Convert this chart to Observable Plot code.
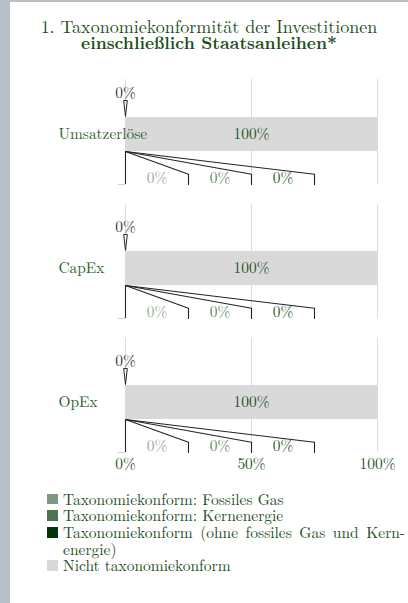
<!DOCTYPE html>
<html><head><meta charset="utf-8">
<script src="https://cdn.jsdelivr.net/npm/d3@7"></script>
<script src="https://cdn.jsdelivr.net/npm/@observablehq/plot@0.6"></script>
<style>
html,body{margin:0;padding:0;}
body{width:408px;height:603px;background:#b5c0c9;overflow:hidden;position:relative;font-family:"Latin Modern Roman","Liberation Serif",serif;}
#panel{position:absolute;left:10px;top:2px;right:0;bottom:0;background:#fff;}
#title{position:absolute;left:0;width:398px;top:16px;text-align:center;color:#1d4f1d;font-size:18px;line-height:16px;white-space:nowrap;}
#title b{font-weight:bold;font-size:17.3px;}
#chart{position:absolute;left:0;top:58px;}
#legend{position:absolute;left:37px;top:488.6px;width:370px;color:#1d4f1d;font-size:15.5px;line-height:16.7px;}
.item{position:relative;padding-left:16px;}
.sw{position:absolute;left:0;top:3px;width:10.5px;height:10.5px;}
.just{display:block;text-align:justify;text-align-last:justify;}
</style></head>
<body>
<div id="panel">
  <div id="title">1. Taxonomiekonformität der Investitionen<br><b>einschließlich Staatsanleihen*</b></div>
  <div id="chart"></div>
  <div id="legend"></div>
</div>
<script>
// ---- data ----
const categories = ["Umsatzerlöse", "CapEx", "OpEx"];
const series = [
  "Taxonomiekonform: Fossiles Gas",
  "Taxonomiekonform: Kernenergie",
  "Taxonomiekonform (ohne fossiles Gas und Kernenergie)",
  "Nicht taxonomiekonform"
];
const fossilGas = [0, 0, 0];
const nuclear = [0, 0, 0];
const aligned = [0, 0, 0];
const notAligned = [100, 100, 100];
const xTicks = [0, 50, 100];

// ---- styles / layout ----
const seriesColors = ["#7d9a80", "#4b7350", "#053505", "#d9d9d9"];
const calloutLabelColors = ["#93ad95", "#5f8763", "#2e5e2e"];
const textGreen = "#1f521f";
const FONT = "Latin Modern Roman";
const FS = 15.4;
const L = {labelTop: 0.2, wedge: 0.333, barTop: 0.412, barBottom: 0.711, barMid: 0.561,
           fanEnd: 0.91, valueLabel: 0.945, bottom: 1, slot: 25,
           gridTop: [0.079, 0, 0]};

const seriesValues = [fossilGas, nuclear, aligned, notAligned];
const fmt = v => `${v}%`;

const stackRows = categories.flatMap((cat, i) => {
  let acc = 0;
  return series.map((s, j) => {
    const v = seriesValues[j][i];
    const r = {category: cat, series: s, idx: j, value: v, x1: acc, x2: acc + v};
    acc += v;
    return r;
  });
});
const conformRows = categories.map((cat, i) => {
  const rows = stackRows.filter(d => d.category === cat && d.idx < 3);
  return {category: cat, start: rows[0].x1, end: rows[2].x2, total: d3.sum(rows, d => d.value)};
});
const calloutRows = stackRows.filter(d => d.idx < 3).map(d => ({
  ...d, origin: (d.x1 + d.x2) / 2, slotEnd: (d.idx + 1) * L.slot, slotMid: (d.idx + 0.5) * L.slot
}));
const fanPoints = calloutRows.flatMap(d => [
  {key: d.category + d.idx, category: d.category, x: d.origin, y: L.barBottom},
  {key: d.category + d.idx, category: d.category, x: d.slotEnd, y: L.fanEnd},
  {key: d.category + d.idx, category: d.category, x: d.slotEnd, y: L.bottom}
]);
const gridRows = categories.flatMap((cat, i) => xTicks.map(t => ({category: cat, x: t, y1: L.gridTop[i]})));

const wedge = {
  draw(context) {
    context.moveTo(-1.8, -8);
    context.lineTo(1.8, -8);
    context.lineTo(0, 8);
    context.closePath();
  }
};

const chart = Plot.plot({
  width: 398, height: 416,
  marginLeft: 115, marginRight: 31, marginTop: 10, marginBottom: 24,
  style: {fontFamily: FONT, fontSize: FS + "px", background: "white"},
  x: {domain: [0, 100]},
  y: {domain: [0, 1], reverse: true, axis: null},
  fy: {domain: categories, axis: null, paddingInner: 20 / 134, paddingOuter: 0},
  color: {domain: series, range: seriesColors},
  marks: [
    Plot.ruleX(gridRows, {fy: "category", x: "x", y1: "y1", y2: L.bottom, stroke: "#dcdcdc", strokeWidth: 1}),
    Plot.axisX(xTicks, {tickSize: 0, tickPadding: 6, tickFormat: fmt, label: null, fill: textGreen, fontSize: FS}),
    Plot.rect(stackRows, {fy: "category", x1: "x1", x2: "x2", y1: L.barTop, y2: L.barBottom, fill: "series"}),
    Plot.text(stackRows.filter(d => d.idx === 3), {fy: "category", x: d => (d.x1 + d.x2) / 2, y: L.barMid, text: d => fmt(d.value), fill: textGreen, fontSize: FS}),
    Plot.text(categories, {fy: d => d, x: 0, y: L.barMid, text: d => d, textAnchor: "start", dx: -67, fill: "#2c5f2c", fontSize: FS}),
    Plot.text(conformRows, {fy: "category", x: d => (d.start + d.end) / 2, y: L.labelTop, text: d => fmt(d.total), fill: "#333", fontSize: FS}),
    Plot.dot(conformRows, {fy: "category", x: d => (d.start + d.end) / 2, y: L.wedge, symbol: wedge, r: 4, fill: "white", stroke: "#222", strokeWidth: 1}),
    Plot.ruleY(conformRows, {fy: "category", y: L.bottom, x1: "start", x2: "start", insetLeft: -7, stroke: "#d0d0d0"}),
    Plot.ruleX(conformRows, {fy: "category", x: "start", y1: L.barBottom, y2: L.bottom, stroke: "#222", strokeWidth: 1.1}),
    Plot.line(fanPoints, {fy: "category", x: "x", y: "y", z: "key", stroke: "#222", strokeWidth: 1.1, curve: "linear"}),
    Plot.text(calloutRows, {fy: "category", x: "slotMid", y: L.valueLabel, text: d => fmt(d.value), fill: d => calloutLabelColors[d.idx], fontSize: FS})
  ]
});
document.getElementById("chart").appendChild(chart);

// legend
const legend = document.getElementById("legend");
series.forEach((s, j) => {
  const item = document.createElement("div");
  item.className = "item";
  const sw = document.createElement("div");
  sw.className = "sw";
  sw.style.background = seriesColors[j];
  item.appendChild(sw);
  if (j === 2) {
    const a = document.createElement("span");
    a.className = "just";
    a.textContent = "Taxonomiekonform (ohne fossiles Gas und Kern-";
    const b = document.createElement("span");
    b.textContent = "energie)";
    item.appendChild(a); item.appendChild(b);
    item.style.width = "342px";
  } else {
    item.appendChild(document.createTextNode(s));
  }
  legend.appendChild(item);
});
</script>
</body></html>
